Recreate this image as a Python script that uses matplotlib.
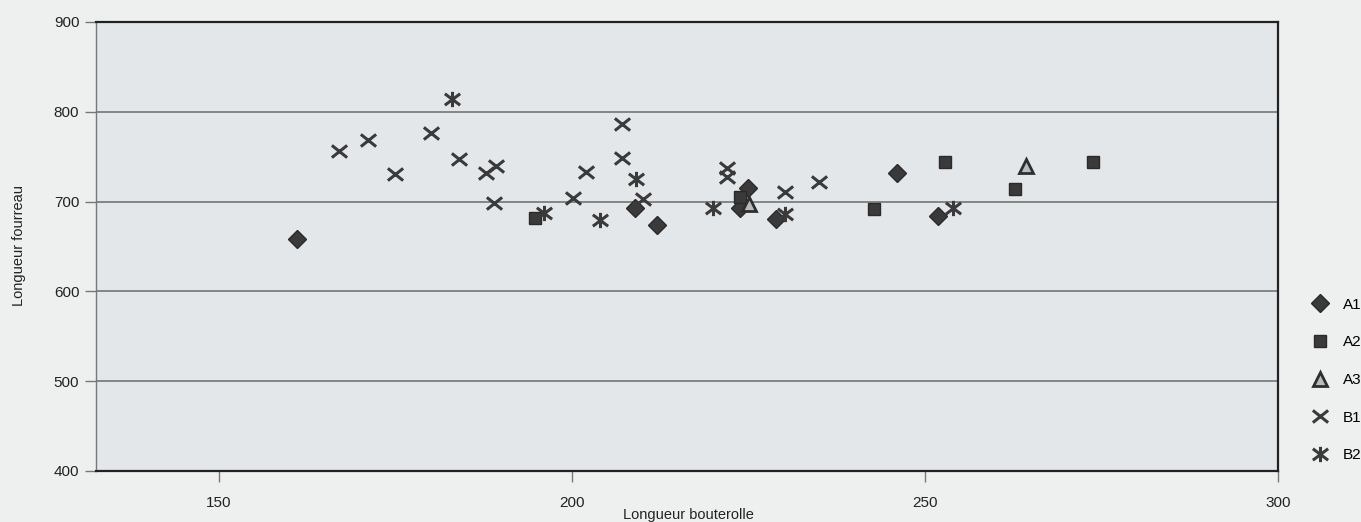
import numpy as np
import matplotlib.pyplot as plt
from matplotlib.path import Path

plt.rcParams['font.family'] = ['Liberation Sans', 'DejaVu Sans']

#<---------------------------- donnees -------------------->
a1_x = [161, 209, 212, 225, 223.8, 228.9, 246, 251.8]
a1_y = [658, 693, 674, 715, 693, 681, 732, 684]
a2_x = [194.8, 223.8, 242.8, 252.8, 262.7, 273.8]
a2_y = [682, 705, 692, 744, 714, 744]
a3_x = [225.1, 264.3]
a3_y = [697, 740]
b1_x = [167, 171.1, 175, 180, 184, 189.2, 187.9, 189, 200.1, 202, 207.1, 207.1, 210.1, 222, 222, 230.2, 235]
b1_y = [756, 769, 731, 776, 747, 740, 732, 698, 704, 733, 786, 749, 703, 737, 727, 711, 722]
b2_x = [183, 196.1, 204, 209.1, 220, 230.2, 254]
b2_y = [814, 687, 679, 725, 693, 686, 693]

x_ticks = [150, 200, 250, 300]
y_ticks = [400, 500, 600, 700, 800, 900]

#<---------------------------- marqueur etoile (X + barre verticale) -------------------->
star = Path([(-1, -0.75), (1, 0.75), (-1, 0.75), (1, -0.75), (0, -1), (0, 1)],
            [Path.MOVETO, Path.LINETO, Path.MOVETO, Path.LINETO, Path.MOVETO, Path.LINETO])
# X un peu plus large que haut
cross = Path([(-1, -0.8), (1, 0.8), (-1, 0.8), (1, -0.8)],
             [Path.MOVETO, Path.LINETO, Path.MOVETO, Path.LINETO])

ink = "#3a3a3a"
fig = plt.figure(figsize=(13.61, 5.22), dpi=100, facecolor="#eef0f0")
ax = fig.add_axes([96/1361, 1-471/522, (1278-96)/1361, (471-22)/522])
ax.set_facecolor("#e4e7e9")

#<---------------------------- series -------------------->
ax.plot(a1_x, a1_y, ls="none", marker="D", ms=9, color=ink, mec="#2a2a2a", label="A1")
ax.plot(a2_x, a2_y, ls="none", marker="s", ms=9, color=ink, mec="#2a2a2a", label="A2")
ax.plot(a3_x, a3_y, ls="none", marker="^", ms=10, mfc="#b8bcbf", mec="#2e2e2e", mew=2, label="A3")
ax.plot(b1_x, b1_y, ls="none", marker=cross, ms=11, color=ink, mew=2.2, label="B1")
ax.plot(b2_x, b2_y, ls="none", marker=star, ms=11, color=ink, mew=2.2, label="B2")

#<---------------------------- axes et grille -------------------->
ax.set_xlim(132.6, 300)
ax.set_ylim(400, 900)
ax.set_xticks(x_ticks)
ax.set_yticks(y_ticks)
for y in y_ticks[1:-1]:
    ax.axhline(y, color="#6a6a6a", lw=1.1, zorder=0)
for s in ["top", "right", "bottom"]:
    ax.spines[s].set_color("#222222")
    ax.spines[s].set_linewidth(1.6)
ax.spines["left"].set_color("#777777")
ax.spines["left"].set_linewidth(1.0)
ax.tick_params(axis="y", direction="out", length=8, width=1, color="#777777", pad=4, labelsize=11, labelcolor="#222222")
ax.tick_params(axis="x", direction="out", length=8, width=1, color="#777777", pad=10, labelsize=11, labelcolor="#222222")

#<---------------------------- titres des axes -------------------->
fig.text(19/1361, 1-246/522, "Longueur fourreau", rotation=90, ha="center", va="center", fontsize=10.5, color="#222222")
fig.text(688/1361, 1-515/522, "Longueur bouterolle", ha="center", va="center", fontsize=10.5, color="#222222")

fig.legend(loc="center left", bbox_to_anchor=(1312/1361, 1-380/522), frameon=False, numpoints=1,
           handlelength=1.0, handletextpad=1.0, labelspacing=1.55, fontsize=11, borderpad=0, borderaxespad=0)

plt.savefig("out.png", dpi=100, facecolor=fig.get_facecolor())
